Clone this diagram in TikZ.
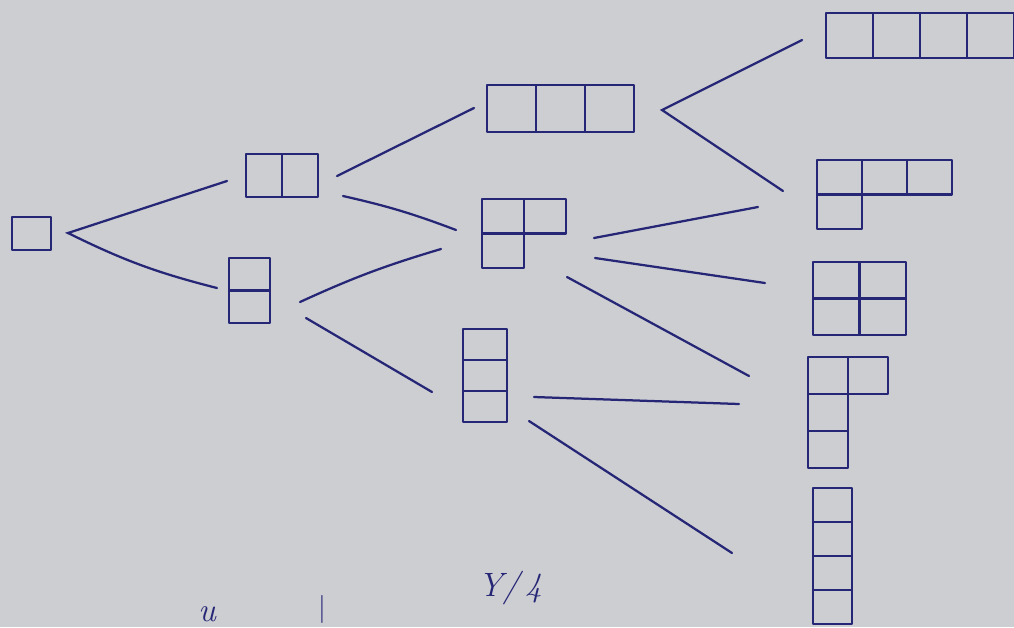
\documentclass[tikz,border=0pt]{standalone}
\usepackage{tikz}
\usetikzlibrary{positioning}

\definecolor{paper}{RGB}{205,206,210}
\definecolor{ink}{RGB}{38,38,118}

\tikzset{
  cellbox/.style={draw=ink, line width=1.7pt, line join=round},
  edge/.style={ink, line width=1.6pt, line cap=round},
  scrawl/.style={ink, font=\fontsize{24}{28}\selectfont\itshape, inner sep=0pt},
}

% \young{name}{top-left}{cell width}{cell height}{row lengths}
\newcommand{\young}[5]{%
  \coordinate (#1) at #2;
  \begin{scope}[shift={(#1)}]
    \foreach \len [count=\r from 0] in {#5}
      \foreach \c in {1,...,\len}
        \draw[cellbox] ({(\c-1)*#3},{\r*#4}) rectangle ++(#3,#4);
  \end{scope}}

\begin{document}
\begin{tikzpicture}[x=0.025cm, y=-0.025cm]

% Paper
\useasboundingbox (0,0) rectangle (1014,627);
\fill[paper] (0,0) rectangle (1014,627);
\clip (0,0) rectangle (1014,627);

% Diagrams, level by level
\young{d1}{(12,217)}{39}{33}{1}
\young{d2}{(246,154)}{36}{43}{2}
\young{d11}{(229,258)}{41}{32.5}{1,1}
\young{d3}{(487,85)}{49}{47}{3}
\young{d21}{(482,199)}{42}{34.5}{2,1}
\young{d111}{(463,329)}{44}{31}{1,1,1}
\young{d4}{(826,13)}{47}{45}{4}
\young{d31}{(817,160)}{45}{34.5}{3,1}
\young{d22}{(813,262)}{46.5}{36.5}{2,2}
\young{d211}{(808,357)}{40}{37}{2,1,1}
\young{d1111}{(813,488)}{39}{34}{1,1,1,1}

% Connector ends
\coordinate (v1) at (68,233);
\coordinate (e2) at (227,181);
\coordinate (e11) at (217,288);
\coordinate (a3) at (337,176);   \coordinate (b3) at (474,108);
\coordinate (a21) at (343,196);  \coordinate (b21) at (456,230);
\coordinate (c21) at (300,302);  \coordinate (f21) at (441,249);
\coordinate (a111) at (306,318); \coordinate (b111) at (432,392);
\coordinate (v3) at (662,110);
\coordinate (e4) at (802,40);
\coordinate (e31) at (783,191);
\coordinate (g31) at (594,238);  \coordinate (h31) at (758,207);
\coordinate (g22) at (595,258);  \coordinate (h22) at (765,283);
\coordinate (g211) at (567,277); \coordinate (h211) at (749,376);
\coordinate (k211) at (534,397); \coordinate (m211) at (739,404);
\coordinate (k1111) at (529,421); \coordinate (m1111) at (732,553);

% Connectors
\draw[edge] (e2) -- (v1) to[bend right=6] (e11);
\draw[edge] (a3) -- (b3);
\draw[edge] (a21) to[bend left=4] (b21);
\draw[edge] (c21) to[bend left=4] (f21);
\draw[edge] (a111) -- (b111);
\draw[edge] (e4) -- (v3) -- (e31);
\draw[edge] (g31) -- (h31);
\draw[edge] (g22) -- (h22);
\draw[edge] (g211) -- (h211);
\draw[edge] (k211) -- (m211);
\draw[edge] (k1111) -- (m1111);

% Scribbles at the foot of the page
\node[scrawl] (note) at (510,588) {Y/\,4};
\node[scrawl, anchor=south] (mark1) at (207,622) {u};
\node[scrawl, anchor=south, font=\fontsize{20}{24}\selectfont\upshape] (mark2) at (322,624) {|};

\end{tikzpicture}
\end{document}
